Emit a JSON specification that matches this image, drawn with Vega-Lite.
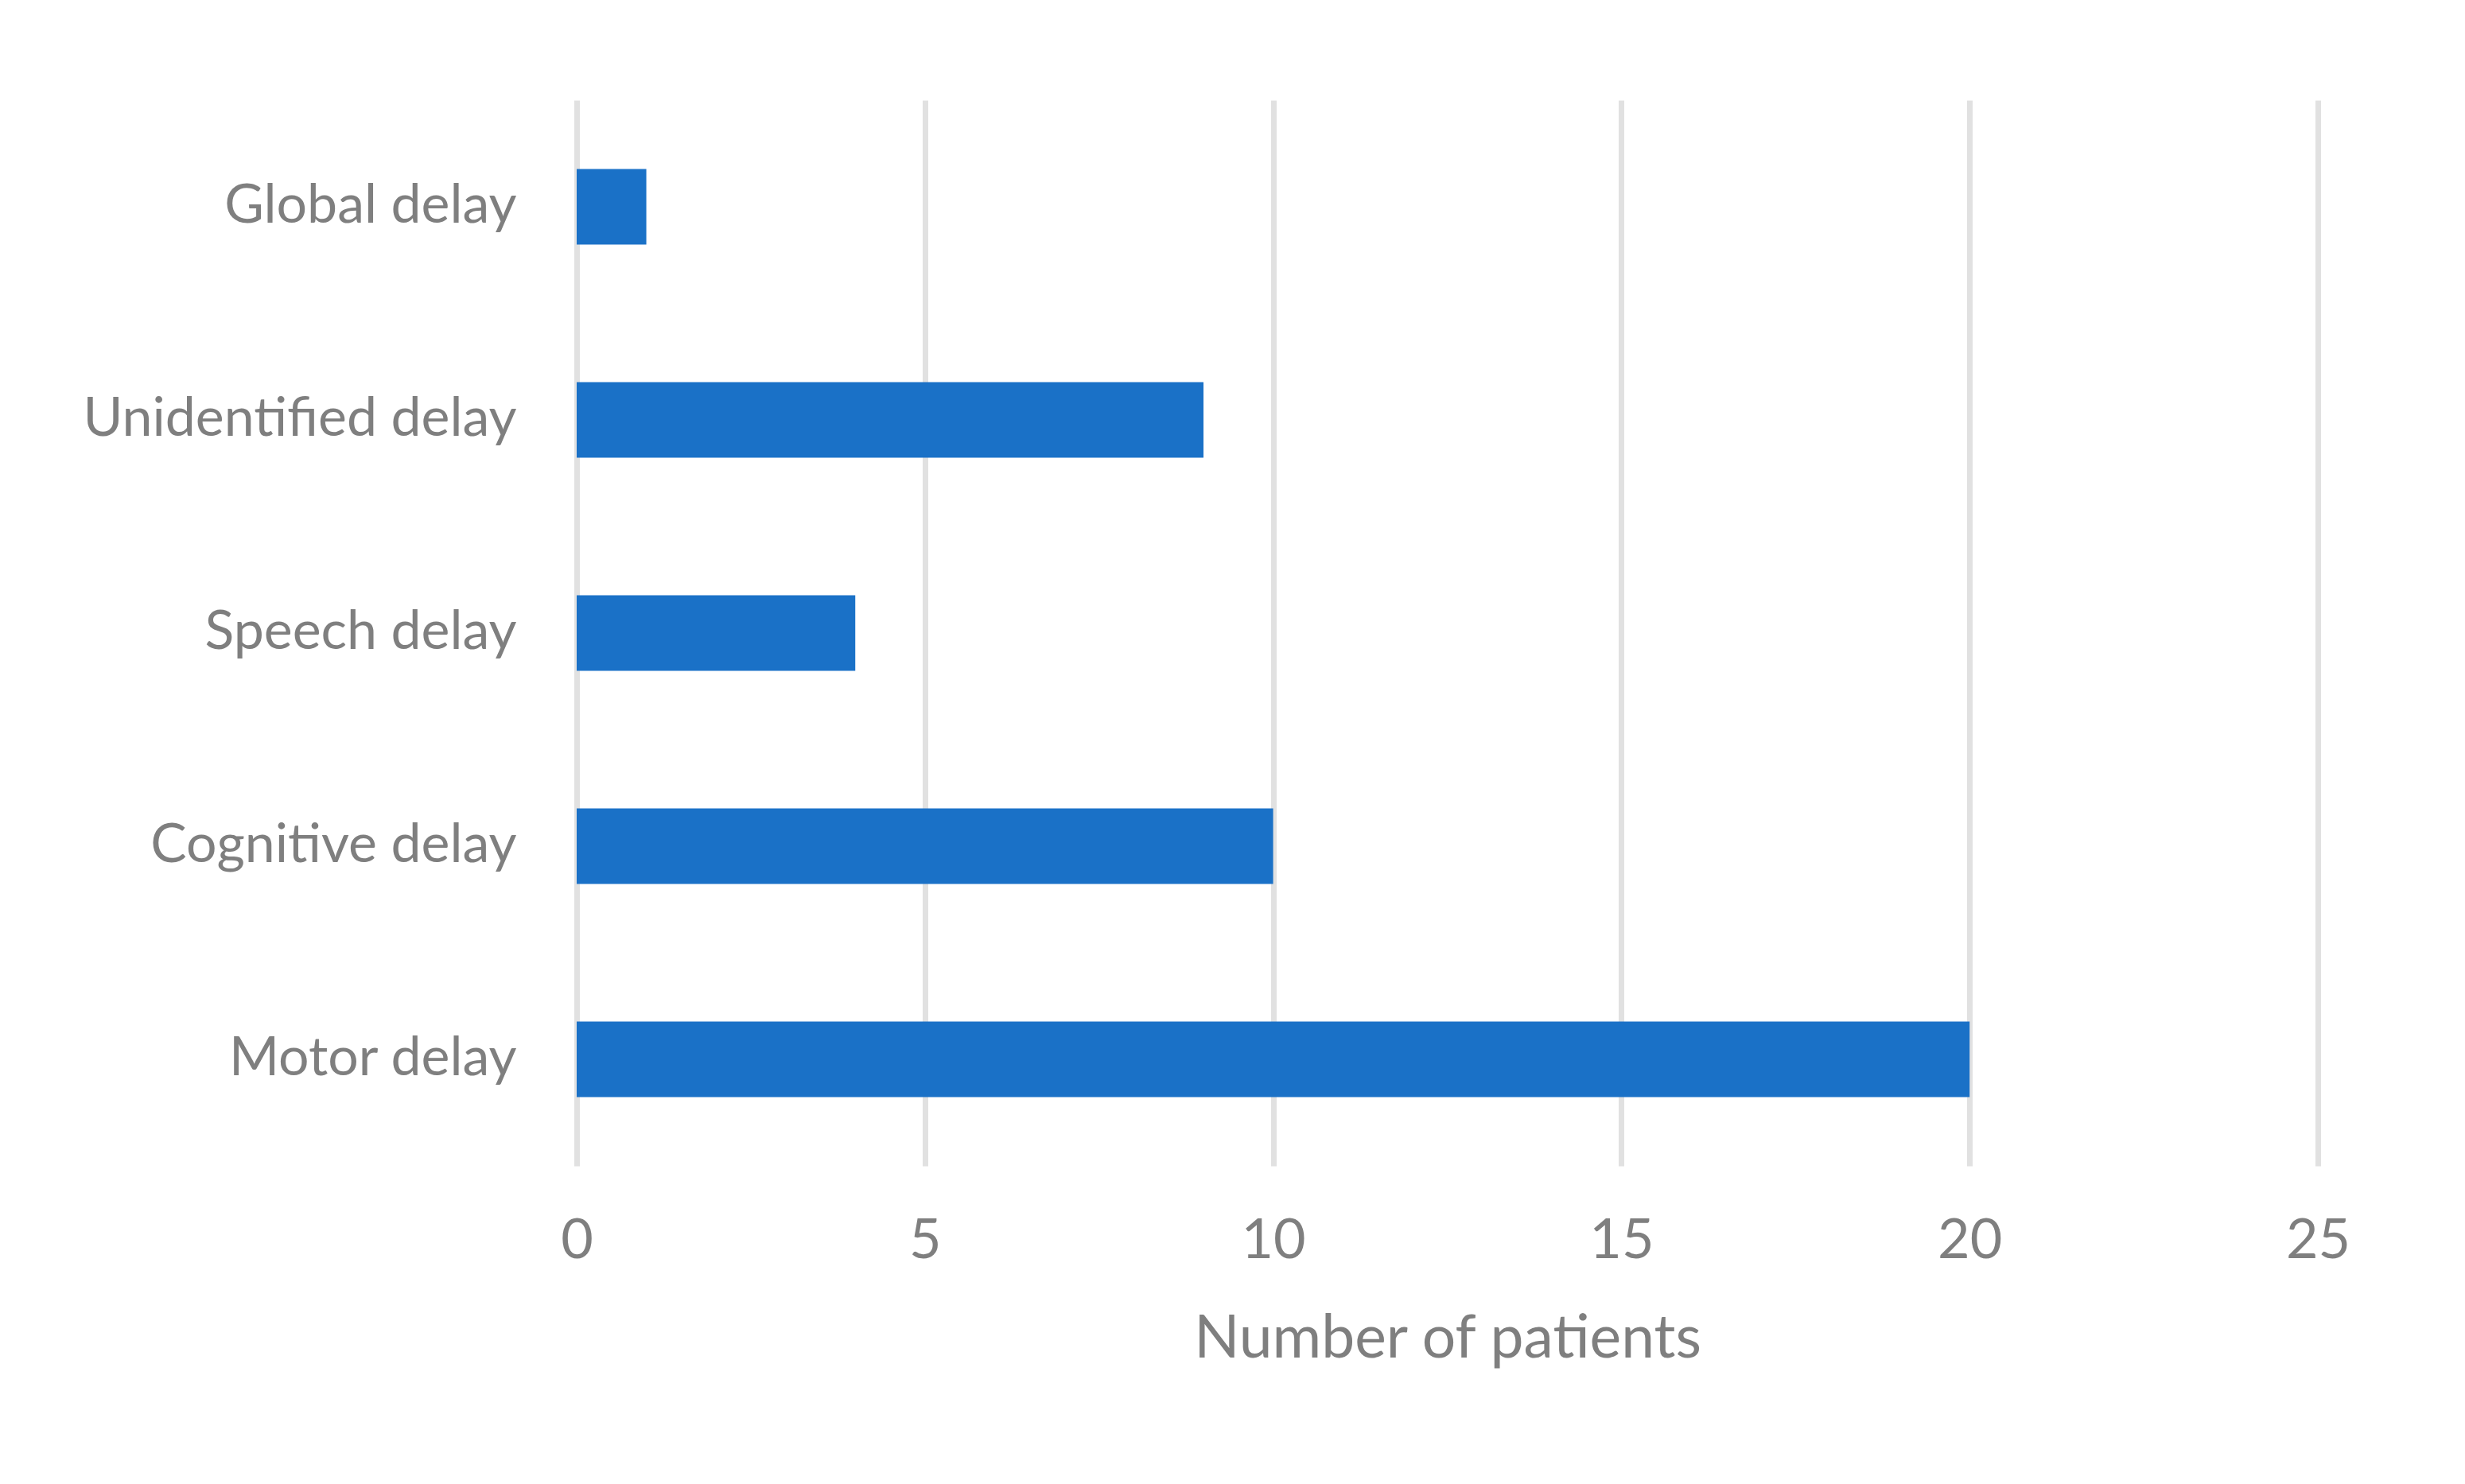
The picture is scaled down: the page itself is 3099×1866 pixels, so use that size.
{
  "$schema": "https://vega.github.io/schema/vega-lite/v6.json",
  "autosize": {"type": "none"},
  "width": 2189,
  "height": 1340,
  "padding": {"left": 725, "top": 126, "right": 185, "bottom": 400},
  "background": "white",
  "data": {
    "values": [
      {"category": "Global delay", "patients": 1},
      {"category": "Unidentified delay", "patients": 9},
      {"category": "Speech delay", "patients": 4},
      {"category": "Cognitive delay", "patients": 10},
      {"category": "Motor delay", "patients": 20}
    ]
  },
  "mark": {"type": "bar", "color": "#1a71c7"},
  "encoding": {
    "y": {
      "field": "category",
      "type": "nominal",
      "sort": null,
      "scale": {"paddingInner": 0.645, "paddingOuter": 0.3225},
      "axis": {
        "title": null,
        "domain": false,
        "ticks": false,
        "grid": false,
        "labelFont": "Lato",
        "labelFontSize": 68,
        "labelColor": "#7f7f7f",
        "labelPadding": 76,
        "labelLimit": 1000
      }
    },
    "x": {
      "field": "patients",
      "type": "quantitative",
      "scale": {"domain": [0, 25], "nice": false},
      "axis": {
        "title": "Number of patients",
        "values": [0, 5, 10, 15, 20, 25],
        "domain": false,
        "ticks": false,
        "grid": true,
        "gridColor": "#e1e1e1",
        "gridWidth": 7,
        "labelFont": "Lato",
        "labelFontSize": 70,
        "labelColor": "#7f7f7f",
        "labelPadding": 60,
        "labelFlush": false,
        "titleFont": "Lato",
        "titleFontSize": 75,
        "titleFontWeight": "normal",
        "titleColor": "#7f7f7f",
        "titlePadding": 52
      }
    }
  },
  "config": {"view": {"stroke": null}}
}
